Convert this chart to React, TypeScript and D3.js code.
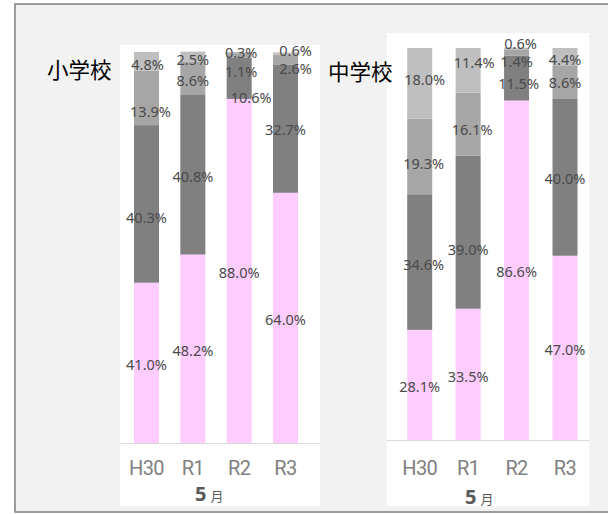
import React from "react";
import * as d3 from "d3";

const categories = ["H30", "R1", "R2", "R3"];
const seriesColors = ["#ffccff", "#808080", "#a6a6a6", "#bfbfbf"];

// 小学校 (elementary) – series bottom → top
const elemPink = [41.0, 48.2, 88.0, 64.0];
const elemDark = [40.3, 40.8, 10.6, 32.7];
const elemMid = [13.9, 8.6, 1.1, 2.6];
const elemLight = [4.8, 2.5, 0.3, 0.6];

// 中学校 (junior high)
const juniorPink = [28.1, 33.5, 86.6, 47.0];
const juniorDark = [34.6, 39.0, 11.5, 40.0];
const juniorMid = [19.3, 16.1, 1.4, 8.6];
const juniorLight = [18.0, 11.4, 0.6, 4.4];

// label nudges [dx, dy] per category / series (style only)
const elemNudge = [
  [[0, 0], [0, 12], [4, 12], [1, 1]],
  [[0, 0], [0, 0], [0, 1], [0, 1]],
  [[0, 0], [12, 18], [2, 14], [2, -2]],
  [[0, 0], [0, -1], [10, 7], [10, -5]],
];
const juniorNudge = [
  [[0, 0], [4, 1], [4, 5], [5, -6]],
  [[0, 0], [0, 16], [4, 4], [6, -10]],
  [[0, 0], [2, 4], [0, 7], [4, -7]],
  [[0, 0], [0, -1], [0, -1], [0, 1]],
];

type PanelProps = {
  title: string;
  titleX: number;
  titleY: number;
  series: number[][];
  nudge: number[][][];
  panel: { x0: number; x1: number; y0: number; y1: number };
  xRange: [number, number];
  yRange: [number, number];
  catY: number;
  monthX: number;
  monthY: number;
};

function Panel(p: PanelProps) {
  const x = d3.scalePoint<string>().domain(categories).range(p.xRange);
  const y = d3.scaleLinear().domain([0, 100]).range(p.yRange);
  const keys = p.series.map((_, i) => "s" + i);
  const rows = categories.map((c, ci) => {
    const r: any = { cat: c };
    p.series.forEach((s, si) => (r["s" + si] = s[ci]));
    return r;
  });
  const stacked = d3.stack<any>().keys(keys)(rows);
  const bw = 25;
  const labelFont = "'Noto Sans', 'DejaVu Sans', sans-serif";
  return (
    <g>
      <rect x={p.panel.x0} y={p.panel.y0} width={p.panel.x1 - p.panel.x0} height={p.panel.y1 - p.panel.y0} fill="#ffffff" />
      {stacked.map((layer, si) => (
        <g key={si}>
          {layer.map((d, ci) => (
            <rect
              key={ci}
              x={(x(categories[ci]) as number) - bw / 2}
              y={y(d[1])}
              width={bw}
              height={y(d[0]) - y(d[1])}
              fill={seriesColors[si]}
            />
          ))}
        </g>
      ))}
      <line x1={p.panel.x0} x2={p.panel.x1} y1={p.yRange[0] + 0.5} y2={p.yRange[0] + 0.5} stroke="#d9d9d9" strokeWidth={1} />
      {stacked.map((layer, si) => (
        <g key={"l" + si}>
          {layer.map((d, ci) => {
            const [dx, dy] = p.nudge[ci][si];
            const cx = (x(categories[ci]) as number) + dx;
            const cy = (y(d[0]) + y(d[1])) / 2 + 2 + dy;
            return (
              <text
                key={ci}
                x={cx}
                y={cy}
                dy="0.36em"
                textAnchor="middle"
                fontFamily={labelFont}
                fontSize={14.5}
                fill="#4a4a4a"
              >
                {p.series[si][ci].toFixed(1) + "%"}
              </text>
            );
          })}
        </g>
      ))}
      {categories.map((c) => (
        <text
          key={c}
          x={x(c) as number}
          y={p.catY}
          textAnchor="middle"
          fontFamily="Roboto, 'Noto Sans', sans-serif"
          fontSize={20}
          letterSpacing={-0.6}
          fill="#808080"
        >
          {c}
        </text>
      ))}
      <text x={p.monthX} y={p.monthY} fill="#595959">
        <tspan fontFamily="'Noto Sans', sans-serif" fontSize={20} fontWeight="bold">5</tspan>
        <tspan fontFamily="'Noto Sans CJK JP', sans-serif" fontSize={13} dx={4}>月</tspan>
      </text>
      <text x={p.titleX} y={p.titleY} fontFamily="'Noto Sans CJK JP', sans-serif" fontSize={21.5} fill="#000000">
        {p.title}
      </text>
    </g>
  );
}

export default function App() {
  return (
    <svg width={608} height={514} style={{ position: "absolute", left: 0, top: 0, background: "#ffffff" }}>
      <rect x={15} y={4} width={620} height={508} fill="#f2f2f2" stroke="#7f7f7f" strokeWidth={1.5} />
      <Panel
        title="小学校"
        titleX={47}
        titleY={78}
        series={[elemPink, elemDark, elemMid, elemLight]}
        nudge={elemNudge}
        panel={{ x0: 120, x1: 320, y0: 45, y1: 506 }}
        xRange={[146.5, 285.5]}
        yRange={[443, 52]}
        catY={475}
        monthX={195}
        monthY={501}
      />
      <Panel
        title="中学校"
        titleX={328}
        titleY={80}
        series={[juniorPink, juniorDark, juniorMid, juniorLight]}
        nudge={juniorNudge}
        panel={{ x0: 387, x1: 589, y0: 33, y1: 506 }}
        xRange={[419.7, 565]}
        yRange={[440, 48]}
        catY={475}
        monthX={465}
        monthY={504}
      />
    </svg>
  );
}
